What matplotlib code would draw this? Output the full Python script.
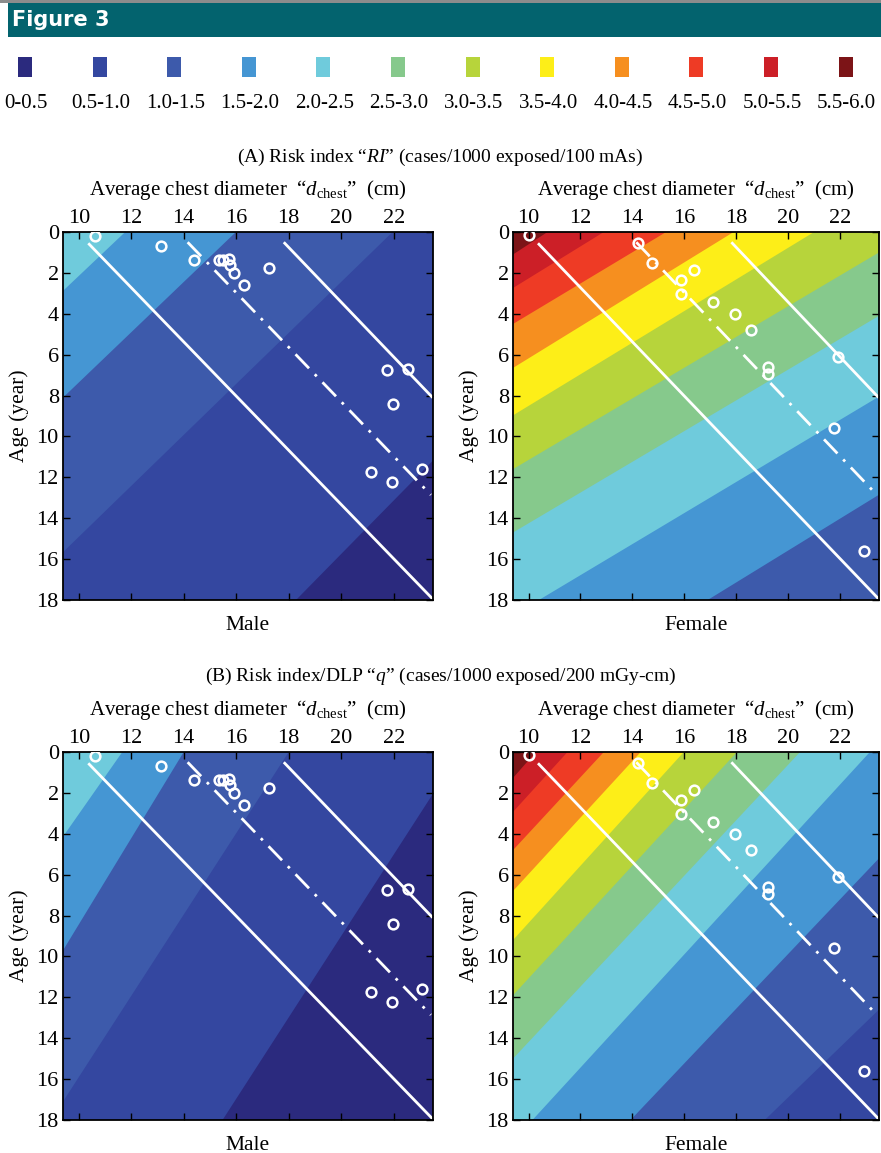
import numpy as np
import matplotlib
matplotlib.use("Agg")
import matplotlib.pyplot as plt
from matplotlib.patches import Rectangle

plt.rcParams["font.family"] = ["Liberation Serif", "DejaVu Serif"]
plt.rcParams["mathtext.fontset"] = "custom"
plt.rcParams["mathtext.rm"] = "Liberation Serif"
plt.rcParams["mathtext.it"] = "Liberation Serif:italic"

W, H = 881, 1153

# ---- legend bands ----
BAND_LABELS = ["0-0.5", "0.5-1.0", "1.0-1.5", "1.5-2.0", "2.0-2.5", "2.5-3.0",
               "3.0-3.5", "3.5-4.0", "4.0-4.5", "4.5-5.0", "5.0-5.5", "5.5-6.0"]
BAND_COLORS = ["#2b2a7e", "#3447a0", "#3d5aab", "#4596d3", "#6fcbdc", "#86c98c",
               "#b7d43b", "#fdee18", "#f68f1f", "#ee3b25", "#cc1f27", "#7c1417"]

D_TICKS = [10, 12, 14, 16, 18, 20, 22]
AGE_TICKS = [0, 2, 4, 6, 8, 10, 12, 14, 16, 18]
D_LIM = (9.4, 23.5)

# ---- patients (chest diameter cm, age yr) ----
male_d = [10.62, 13.14, 14.41, 15.35, 15.48, 15.74, 15.78, 15.90, 16.30, 17.24,
          21.75, 22.56, 21.99, 21.15, 21.94, 23.08]
male_age = [0.21, 0.70, 1.37, 1.35, 1.35, 1.33, 1.63, 2.02, 2.61, 1.78,
            6.77, 6.69, 8.43, 11.76, 12.25, 11.60]
female_d = [10.03, 14.20, 14.75, 16.37, 15.88, 15.89, 17.12, 17.94, 18.57, 19.21,
            19.24, 21.91, 21.78, 22.94]
female_age = [0.16, 0.54, 1.53, 1.86, 2.35, 3.02, 3.44, 4.01, 4.78, 6.59,
              6.93, 6.12, 9.61, 15.60]

# ---- reference lines ----
line_lo_d, line_lo_age = [10.4, 23.45], [0.6, 17.9]
line_hi_d, line_hi_age = [17.85, 23.45], [0.55, 8.05]
line_mid_d, line_mid_age = [14.15, 23.42], [0.5, 12.86]

# ---- contour band boundaries: level, two (d, age) points ----
male_RI_levels = [2.0, 1.5, 1.0, 0.5]
male_RI_end1 = [(9.45, 2.82), (9.45, 8.04), (9.45, 15.6), (18.28, 18.0)]
male_RI_end2 = [(11.77, 0.0), (15.99, 0.0), (21.96, 0.0), (23.52, 11.15)]

female_RI_levels = [5.5, 5.0, 4.5, 4.0, 3.5, 3.0, 2.5, 2.0, 1.5]
female_RI_end1 = [(9.4, 1.1), (9.4, 2.74), (9.4, 4.5), (9.4, 6.65), (9.4, 8.97),
                  (9.4, 11.6), (9.4, 14.7), (10.4, 18.0), (16.9, 18.0)]
female_RI_end2 = [(10.73, 0.0), (12.9, 0.0), (15.3, 0.0), (17.9, 0.0), (21.0, 0.0),
                  (23.5, 1.0), (23.5, 4.1), (23.5, 8.05), (23.5, 12.85)]

male_q_levels = [2.0, 1.5, 1.0, 0.5]
male_q_end1 = [(9.45, 4.05), (9.45, 9.6), (9.45, 17.0), (15.48, 18.0)]
male_q_end2 = [(11.66, 0.0), (14.0, 0.0), (18.0, 0.0), (23.52, 2.0)]

female_q_levels = [5.5, 5.0, 4.5, 4.0, 3.5, 3.0, 2.5, 2.0, 1.5, 1.0]
female_q_end1 = [(9.4, 1.27), (9.4, 2.93), (9.4, 4.8), (9.4, 6.8), (9.4, 9.2),
                 (9.4, 11.9), (9.4, 15.0), (10.15, 18.0), (13.93, 18.0), (19.1, 18.0)]
female_q_end2 = [(10.28, 0.0), (11.5, 0.0), (12.9, 0.0), (14.32, 0.0), (15.98, 0.0),
                 (18.03, 0.0), (20.46, 0.0), (23.15, 0.0), (23.5, 5.2), (23.5, 12.6)]


def fx(x):
    return x / W


def fy(y):
    return 1 - y / H


def half_plane(p1, p2, ref=(0.0, -10.0), big=200.0):
    p1, p2, ref = np.asarray(p1, float), np.asarray(p2, float), np.asarray(ref)
    u = (p2 - p1) / np.linalg.norm(p2 - p1)
    n = np.array([-u[1], u[0]])
    if np.dot(n, ref - p1) < 0:
        n = -n
    a, b = p1 - big * u, p2 + big * u
    poly = np.array([a, b, b + big * n, a + big * n])
    return poly[:, 0], poly[:, 1]


def panel(box, levels, end1, end2, pts_d, pts_age, sex):
    left, top, right, bottom = box
    ax = fig.add_axes([fx(left), fy(bottom), fx(right - left), (bottom - top) / H])
    lo = int(round(min(levels) / 0.5)) - 1
    ax.axvspan(*D_LIM, color=BAND_COLORS[lo], lw=0, zorder=0.2)
    # paint each band's upper half-plane from the lowest level up
    for i in np.argsort(levels):
        xs, ys = half_plane(end1[i], end2[i])
        ax.fill(xs, ys, color=BAND_COLORS[int(round(levels[i] / 0.5))], lw=0, zorder=0.3)
    ax.plot(line_lo_d, line_lo_age, color="white", lw=2.0, zorder=2)
    ax.plot(line_hi_d, line_hi_age, color="white", lw=2.0, zorder=2)
    ax.plot(line_mid_d, line_mid_age, color="white", lw=2.0, zorder=2,
            linestyle=(0, (7, 3, 1, 3)))
    ax.plot(pts_d, pts_age, "o", mfc="none", mec="white", mew=1.8, ms=7, zorder=3)
    ax.set_xlim(*D_LIM)
    ax.set_ylim(18, 0)
    ax.set_xticks(D_TICKS)
    ax.set_yticks(AGE_TICKS)
    ax.tick_params(direction="in", top=True, bottom=True, left=True, right=True,
                   labeltop=True, labelbottom=False, length=5, width=1.0,
                   labelsize=16, pad=3)
    for lab in ax.get_xticklabels() + ax.get_yticklabels():
        lab.set_family("Liberation Serif")
    for s in ax.spines.values():
        s.set_linewidth(1.3)
    cx = fx((left + right) / 2)
    fig.text(cx, fy(top - 42), "Average chest diameter  “$d_{\\mathrm{chest}}$”  (cm)",
             ha="center", va="center", fontsize=15)
    fig.text(cx, fy(bottom + 25), sex, ha="center", va="center", fontsize=15.5)
    fig.text(fx(left - 44), fy((top + bottom) / 2), "Age (year)", rotation=90,
             ha="center", va="center", fontsize=15.5)
    return ax


fig = plt.figure(figsize=(W / 100, H / 100), dpi=100)

# header bar
fig.patches.append(Rectangle((0, fy(3)), 1, 3 / H, transform=fig.transFigure,
                             color="#8c8c8c", lw=0))
fig.patches.append(Rectangle((fx(8), fy(37)), 1, 34 / H, transform=fig.transFigure,
                             color="#03636e", lw=0))
fig.text(fx(12), fy(20), "Figure 3", color="white", fontsize=15, fontweight="bold",
         family=["Liberation Sans Narrow", "DejaVu Sans"], ha="left", va="center")

# legend row
for i, (lab, col) in enumerate(zip(BAND_LABELS, BAND_COLORS)):
    cx = 25 + 74.6 * i
    fig.patches.append(Rectangle((fx(cx - 7), fy(77)), 14 / W, 20 / H,
                                 transform=fig.transFigure, color=col, lw=0))
    fig.text(fx(cx + 1), fy(104), lab, ha="center", va="center", fontsize=15)

fig.text(0.5, fy(157), "(A) Risk index “$RI$” (cases/1000 exposed/100 mAs)",
         ha="center", va="center", fontsize=14)
fig.text(0.5, fy(676), "(B) Risk index/DLP “$q$” (cases/1000 exposed/200 mGy-cm)",
         ha="center", va="center", fontsize=14)

panel((63, 232, 433, 600), male_RI_levels, male_RI_end1, male_RI_end2,
      male_d, male_age, "Male")
panel((513, 232, 879, 600), female_RI_levels, female_RI_end1, female_RI_end2,
      female_d, female_age, "Female")
panel((63, 752, 433, 1120), male_q_levels, male_q_end1, male_q_end2,
      male_d, male_age, "Male")
panel((513, 752, 879, 1120), female_q_levels, female_q_end1, female_q_end2,
      female_d, female_age, "Female")

fig.savefig("out.png", dpi=100)
